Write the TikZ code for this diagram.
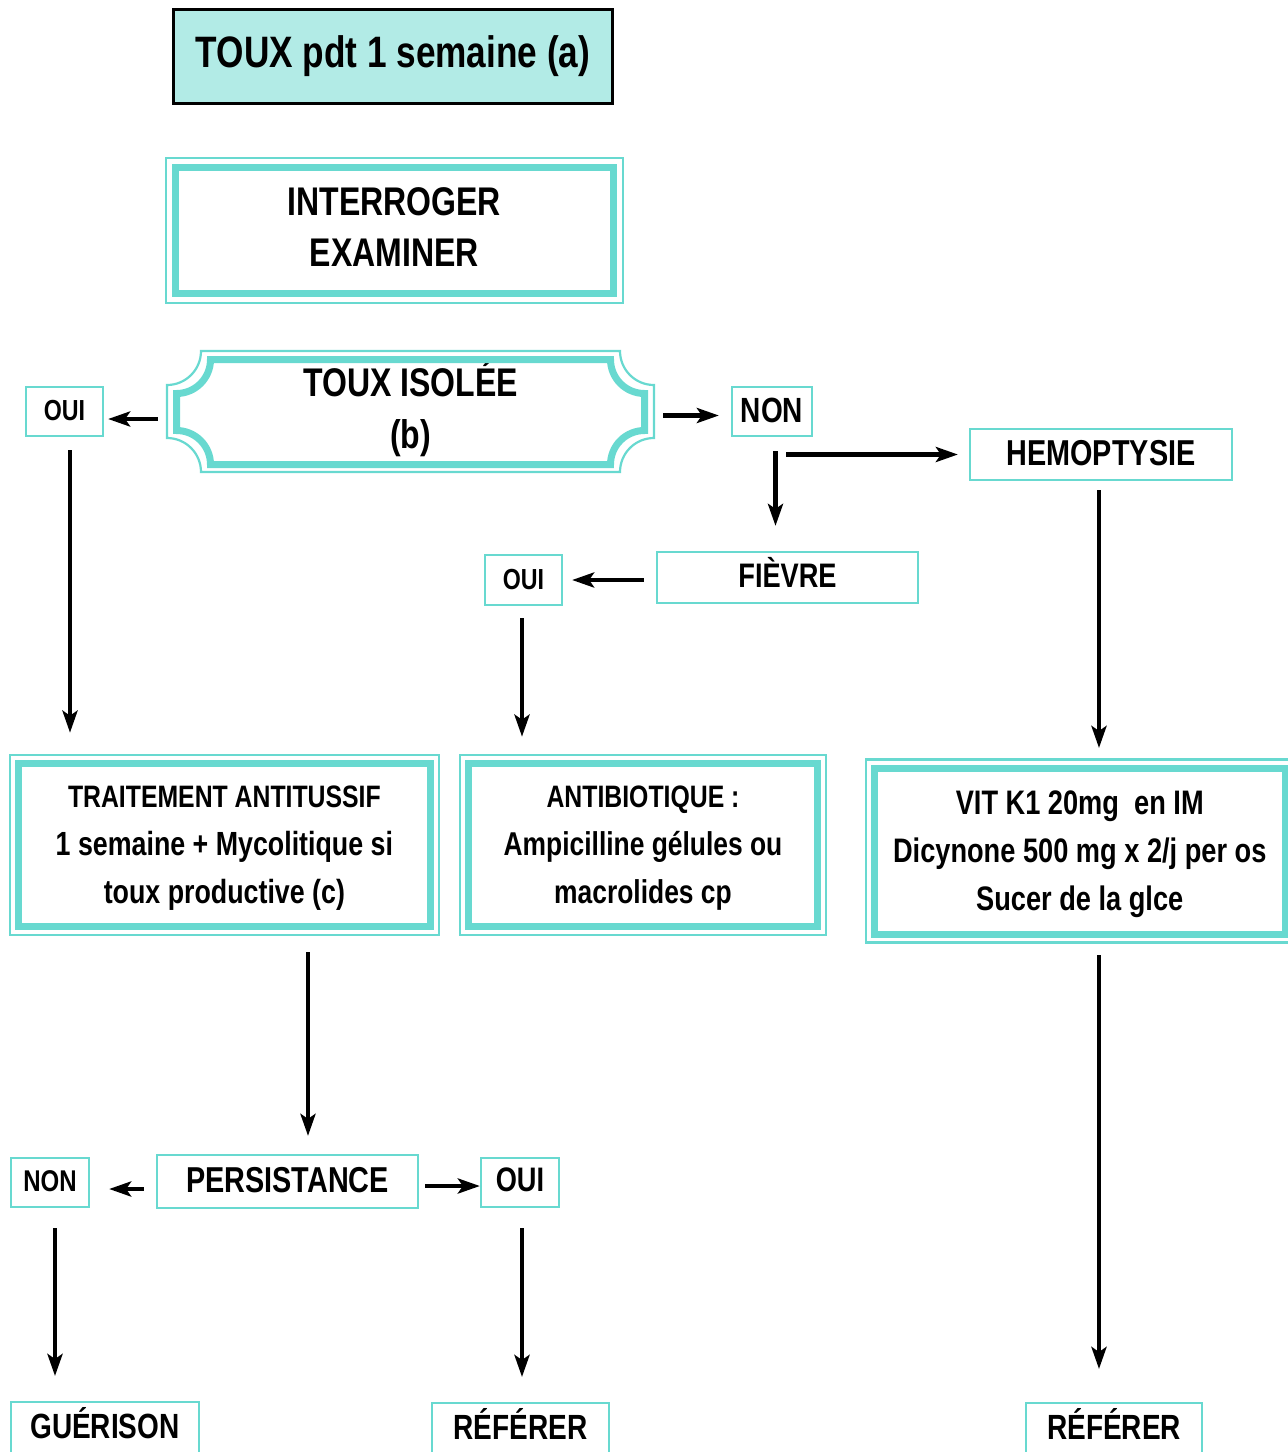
\documentclass[tikz,border=0pt]{standalone}
\usepackage{fontspec}
\setmainfont{Liberation Sans}[FakeStretch=0.80]
\usetikzlibrary{arrows.meta}
\definecolor{boxteal}{RGB}{104,217,208}
\definecolor{topfill}{RGB}{178,235,230}

% double frame: thin outline drawn at a fixed distance around a thick-bordered node
\newcommand\outerframe[2]{%
  \draw[framethin] ([shift={(-#2,#2)}]#1.north west) rectangle ([shift={(#2,-#2)}]#1.south east);}

% rectangle with concave (scooped) corners: x1 ytop x2 ybottom radius style
\newcommand\scrollframe[6]{%
  \draw[#6] ({#1+#5},#2) -- ({#3-#5},#2)
    arc[start angle=180,end angle=270,radius=#5] -- (#3,{#4+#5})
    arc[start angle=90,end angle=180,radius=#5] -- ({#1+#5},#4)
    arc[start angle=0,end angle=90,radius=#5] -- (#1,{#2-#5})
    arc[start angle=270,end angle=360,radius=#5] -- cycle;}

% line set in a given size inside a multi-line node
\newcommand\sz[1]{\fontsize{#1}{48}\selectfont}

\begin{document}
\begin{tikzpicture}[x=1pt,y=1pt,
  every node/.style={align=center, inner sep=0pt},
  fnt/.style 2 args={font=\fontsize{#1}{#2}\selectfont\bfseries},
  tb/.style 2 args={text height=#1, text depth=#2},
  thinbox/.style={draw=boxteal, line width=2.2pt},
  thickbox/.style={draw=boxteal, line width=7pt, outer sep=0pt},
  framethin/.style={draw=boxteal, line width=2.2pt},
  endbox/.style={thinbox, anchor=north, text height=36pt, text depth=30pt},
  arr/.style={-{Stealth[length=22pt,width=15pt,inset=5pt]}, line width=4.5pt}]

\fill[white] (0,0) rectangle (1288,-1452);
\useasboundingbox (0,0) rectangle (1288,-1452);
\clip (0,0) rectangle (1288,-1452);

% ---- top of the chart
\node[draw=black, line width=3pt, fill=topfill, minimum width=439, minimum height=94, fnt={44}{51}]
  (start) at (393,-56.5) {TOUX pdt 1 semaine (a)};

\node[thickbox, minimum width=438.5, minimum height=126.5, fnt={40}{51}, tb={90pt}{18pt}]
  (exam) at (394.25,-230.25) {INTERROGER\\EXAMINER};
\outerframe{exam}{9.3}

\node[minimum width=487, minimum height=121, fnt={40}{52}, tb={93pt}{20pt}]
  (isolee) at (410.5,-411.5) {TOUX ISOLÉE\\(b)};
\scrollframe{167}{-351}{654}{-472}{34}{draw=boxteal, line width=2.2pt}
\scrollframe{176.5}{-359.5}{644.5}{-464.5}{34}{draw=boxteal, line width=7pt}

% ---- answers and symptoms
\node[thinbox, minimum width=77, minimum height=49, fnt={29}{34}, tb={21pt}{3pt}] (oui1) at (64.5,-411.5) {OUI};
\node[thinbox, minimum width=80, minimum height=49, fnt={35}{40}, tb={25pt}{3pt}] (non1) at (772,-411.5) {NON};
\node[thinbox, minimum width=262, minimum height=51, fnt={36}{40}, tb={26pt}{5pt}] (hemo) at (1101,-454.5) {HEMOPTYSIE};
\node[thinbox, minimum width=261, minimum height=51, fnt={34}{40}, tb={24.3pt}{3.4pt}] (fievre) at (787.5,-577.5) {FIÈVRE};
\node[thinbox, minimum width=77, minimum height=50, fnt={29}{34}, tb={21pt}{2.4pt}] (oui2) at (523.5,-580) {OUI};

% ---- treatments
\node[thickbox, minimum width=412.2, minimum height=162.8, fnt={31}{48}, tb={130pt}{14.2pt}]
  (trait) at (224.4,-845.1) {TRAITEMENT ANTITUSSIF\\\sz{33.5}1 semaine + Mycolitique si\\\sz{33.5}toux productive (c)};
\outerframe{trait}{8.5}
\node[thickbox, minimum width=349, minimum height=162.8, fnt={31}{48}, tb={130pt}{14.2pt}]
  (anti) at (643,-845.1) {ANTIBIOTIQUE :\\\sz{33}Ampicilline gélules ou\\\sz{33}macrolides cp};
\outerframe{anti}{8.5}
\node[thickbox, minimum width=410.5, minimum height=166, fnt={34}{48}, tb={130pt}{11.6pt}]
  (vit) at (1079.75,-851) {VIT K1 20mg\ \ en IM\\Dicynone 500 mg x 2/j per os\\Sucer de la glce};
\outerframe{vit}{8.5}

% ---- follow-up
\node[thinbox, minimum width=261, minimum height=53, fnt={36}{40}, tb={25.8pt}{4pt}] (pers) at (287.5,-1181.5) {PERSISTANCE};
\node[thinbox, minimum width=78, minimum height=49, fnt={30}{34}, tb={21.5pt}{4pt}] (non2) at (50,-1182.5) {NON};
\node[thinbox, minimum width=78, minimum height=49, fnt={34}{38}, tb={24.3pt}{5.6pt}] (oui3) at (520,-1182.5) {OUI};

\node[endbox, minimum width=188, fnt={35}{40}] (guer) at (105,-1401) {GUÉRISON};
\node[endbox, minimum width=177, fnt={35}{40}] (ref1) at (520.5,-1402) {RÉFÉRER};
\node[endbox, minimum width=176, fnt={35}{40}] (ref2) at (1114,-1402) {RÉFÉRER};

% ---- connectors
\draw[arr, shorten <=9pt, shorten >=4pt] ([yshift=-7.5]isolee.west) -- ([yshift=-7.5]oui1.east);
\draw[arr, shorten <=9pt, shorten >=12pt] ([yshift=-4]isolee.east) -- ([yshift=-4]non1.west);
\draw[arr, shorten <=14pt, shorten >=25pt] ([xshift=3.5]non1.south) -- ([xshift=3.5]non1.south |- fievre.north);
\draw[arr, shorten >=11pt] ([xshift=14]non1.south |- hemo.west) -- (hemo.west);
\draw[arr, shorten <=12pt, shorten >=9pt] ([yshift=-2.5]fievre.west) -- ([yshift=-2.5]fievre.west -| oui2.east);
\draw[arr, shorten <=12pt, shorten >=27pt] ([xshift=-1.5]oui2.south) -- ([xshift=-1.5]oui2.south |- anti.north);
\draw[arr, shorten <=13pt, shorten >=31pt] ([xshift=5.5]oui1.south) -- ([xshift=5.5]oui1.south |- trait.north);
\draw[arr, shorten <=9pt, shorten >=20pt] ([xshift=-2]hemo.south) -- ([xshift=-2]hemo.south |- vit.north);
\draw[arr, shorten <=25.5pt, shorten >=18pt] ([xshift=20.5]pers.north |- trait.south) -- ([xshift=20.5]pers.north);
\draw[arr, shorten <=12pt, shorten >=19pt] ([yshift=-7.5]pers.west) -- ([yshift=-7.5]pers.west -| non2.east);
\draw[arr, shorten <=6pt] ([yshift=-4.5]pers.east) -- ([yshift=-4.5]pers.east -| oui3.west);
\draw[arr, shorten <=20pt, shorten >=25pt] ([xshift=5]non2.south) -- ([xshift=5]non2.south |- guer.north);
\draw[arr, shorten <=20pt, shorten >=25pt] ([xshift=2]oui3.south) -- ([xshift=2]oui3.south |- ref1.north);
\draw[arr, shorten <=21pt, shorten >=33pt] ([xshift=-15]ref2.north |- vit.south) -- ([xshift=-15]ref2.north);
\end{tikzpicture}
\end{document}
